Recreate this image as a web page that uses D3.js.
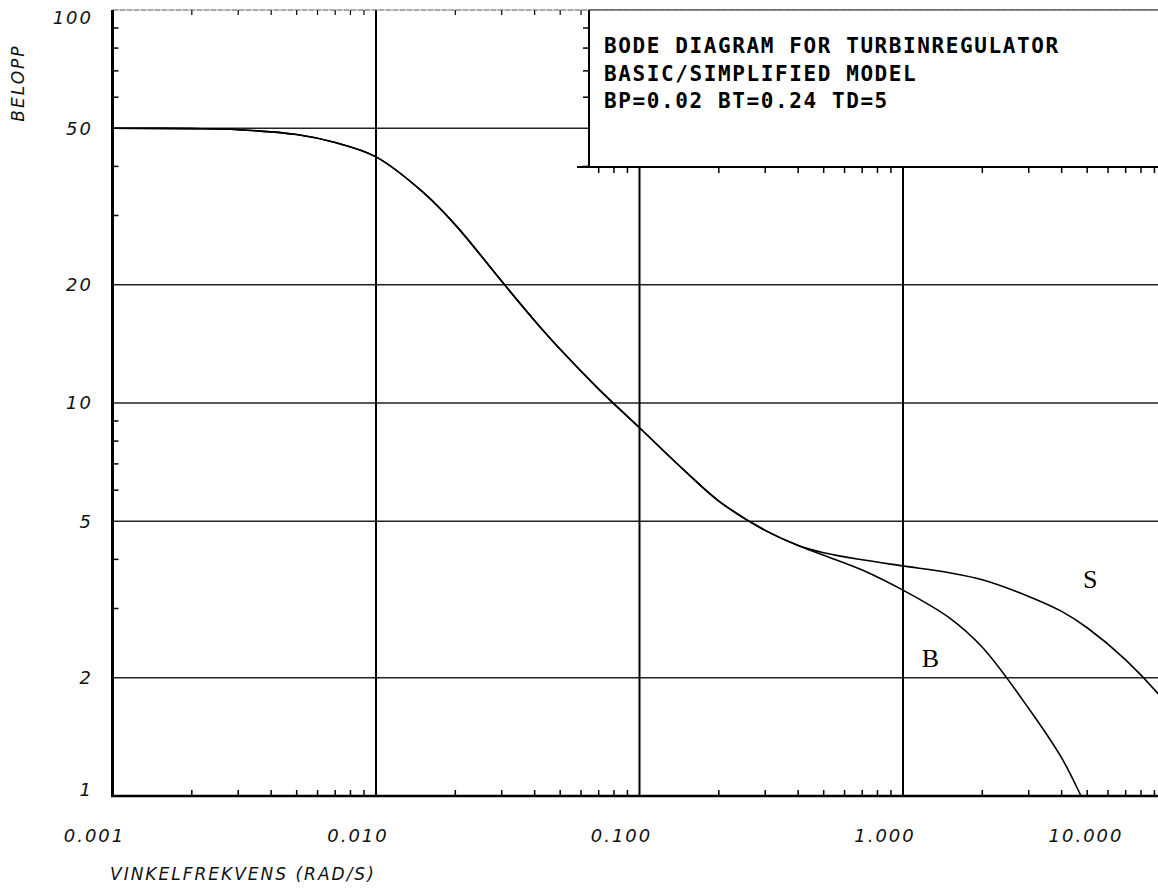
<!DOCTYPE html>
<html>
<head>
<meta charset="utf-8">
<script src="https://cdn.jsdelivr.net/npm/d3@7"></script>
<style>
  html, body { margin: 0; padding: 0; background: #fff; }
  svg { display: block; }
  .tick-label { font-family: "DejaVu Sans", sans-serif; font-style: italic; font-weight: 200; font-size: 18px; letter-spacing: 2px; fill: #111; }
  .axis-title { font-family: "DejaVu Sans", sans-serif; font-style: italic; font-weight: 200; font-size: 17px; letter-spacing: 2px; fill: #111; }
  .box-text { font-family: "DejaVu Sans Mono", monospace; font-weight: bold; font-size: 21px; letter-spacing: 1.6px; fill: #000; }
  .curve-label { font-family: "Liberation Serif", "DejaVu Serif", serif; font-size: 26px; fill: #000; }
</style>
</head>
<body>
<svg id="chart" width="1158" height="894"></svg>
<script>
// ---------- data ----------
const omega = [0.001, 0.002, 0.003, 0.005, 0.007, 0.01, 0.015, 0.02, 0.03, 0.04, 0.05, 0.07,
               0.1, 0.15, 0.2, 0.3, 0.4, 0.5, 0.7, 1, 1.5, 2, 3, 4, 5, 7, 10, 15];
// B = basic model, S = simplified model (magnitude, BELOPP)
const magB = [50, 49.9, 49.6, 48.2, 46.0, 42.3, 34.5, 28.4, 20.4, 16.2, 13.7, 10.85,
              8.65, 6.68, 5.63, 4.74, 4.34, 4.1, 3.76, 3.34, 2.84, 2.39, 1.67, 1.25, 0.93, 0.6, 0.4, 0.25];
const magS = [50, 49.9, 49.6, 48.2, 46.0, 42.3, 34.5, 28.4, 20.4, 16.2, 13.7, 10.85,
              8.65, 6.68, 5.63, 4.74, 4.34, 4.16, 3.99, 3.85, 3.7, 3.55, 3.22, 2.95, 2.68, 2.22, 1.72, 1.2];
const seriesNames = ["B", "S"];
const labelPos = [{w: 1.27, m: 2.13}, {w: 5.13, m: 3.38}];   // label anchor positions in data units

const xTickValues = [0.001, 0.01, 0.1, 1, 10];
const xTickLabels = ["0.001", "0.010", "0.100", "1.000", "10.000"];
const yTickValues = [1, 2, 5, 10, 20, 50, 100];
const yTickLabels = ["1", "2", "5", "10", "20", "50", "100"];
const xTitle = "VINKELFREKVENS (RAD/S)";
const yTitle = "BELOPP";
const boxLines = ["BODE DIAGRAM FOR TURBINREGULATOR", "BASIC/SIMPLIFIED MODEL", "BP=0.02 BT=0.24 TD=5"];

// ---------- layout ----------
const W = 1158, H = 894;
const pLeft = 112.5, pTop = 10, pBottom = 796;
const decade = 263.5;
const x = d3.scaleLog().domain([0.001, 20]).range([pLeft, pLeft + decade * Math.log10(20000)]);
const y = d3.scaleLog().domain([1, 100]).range([pBottom, pTop]);
const boxLeft = 589, boxBottom = 167;

const svg = d3.select("#chart");
svg.append("rect").attr("width", W).attr("height", H).attr("fill", "#fff");

svg.append("defs").append("clipPath").attr("id", "plotclip")
  .append("rect").attr("x", pLeft).attr("y", pTop).attr("width", W - pLeft).attr("height", pBottom - pTop);

const g = svg.append("g");

// minor tick values
const xMinor = [];
[0.001, 0.01, 0.1, 1, 10].forEach(d => { for (let k = 2; k <= 9; k++) xMinor.push(d * k); });
const yMinor = [];
[1, 10].forEach(d => { [3, 4, 6, 7, 8, 9].forEach(k => yMinor.push(d * k)); });

// horizontal grid lines
yTickValues.filter(v => v > 1 && v < 100).forEach(v => {
  const yy = y(v);
  const xEnd = yy < boxBottom ? boxLeft : W;
  g.append("line").attr("x1", pLeft).attr("x2", xEnd).attr("y1", yy).attr("y2", yy)
    .attr("stroke", "#222").attr("stroke-width", 1.5);
});
// vertical grid lines
xTickValues.filter(v => v > 0.001).forEach(v => {
  const xx = x(v);
  if (xx > W) return;
  const yTop = xx > boxLeft ? boxBottom : pTop;
  g.append("line").attr("x1", xx).attr("x2", xx).attr("y1", yTop).attr("y2", pBottom)
    .attr("stroke", "#000").attr("stroke-width", 2);
});

// minor ticks: bottom (up), top (down), box bottom (down)
xMinor.forEach(v => {
  const xx = x(v);
  if (xx > W) return;
  g.append("line").attr("x1", xx).attr("x2", xx).attr("y1", pBottom).attr("y2", pBottom - 6)
    .attr("stroke", "#000").attr("stroke-width", 1.5);
  if (xx < boxLeft) {
    g.append("line").attr("x1", xx).attr("x2", xx).attr("y1", pTop).attr("y2", pTop + 5)
      .attr("stroke", "#000").attr("stroke-width", 1.2);
  } else {
    g.append("line").attr("x1", xx).attr("x2", xx).attr("y1", boxBottom).attr("y2", boxBottom + 6)
      .attr("stroke", "#000").attr("stroke-width", 1.5);
  }
});
// minor ticks: left axis (right), box left (left)
yMinor.forEach(v => {
  const yy = y(v);
  g.append("line").attr("x1", pLeft).attr("x2", pLeft + 6).attr("y1", yy).attr("y2", yy)
    .attr("stroke", "#000").attr("stroke-width", 1.5);
  if (yy < boxBottom) {
    g.append("line").attr("x1", boxLeft).attr("x2", boxLeft - 6).attr("y1", yy).attr("y2", yy)
      .attr("stroke", "#000").attr("stroke-width", 1.5);
  }
});

// frame
g.append("line").attr("x1", pLeft).attr("x2", W).attr("y1", pTop).attr("y2", pTop)
  .attr("stroke", "#555").attr("stroke-width", 1).attr("stroke-dasharray", "6,1");
g.append("line").attr("x1", pLeft).attr("x2", pLeft).attr("y1", pTop).attr("y2", pBottom)
  .attr("stroke", "#000").attr("stroke-width", 3);
g.append("line").attr("x1", pLeft - 1.5).attr("x2", W).attr("y1", pBottom).attr("y2", pBottom)
  .attr("stroke", "#000").attr("stroke-width", 2.5);

// legend / title box
g.append("rect").attr("x", boxLeft).attr("y", pTop).attr("width", W - boxLeft + 10).attr("height", boxBottom - pTop)
  .attr("fill", "#fff").attr("stroke", "none");
g.append("line").attr("x1", boxLeft).attr("x2", boxLeft).attr("y1", pTop).attr("y2", boxBottom)
  .attr("stroke", "#000").attr("stroke-width", 2);
g.append("line").attr("x1", boxLeft - 12).attr("x2", W).attr("y1", boxBottom).attr("y2", boxBottom)
  .attr("stroke", "#000").attr("stroke-width", 2);
g.append("line").attr("x1", boxLeft).attr("x2", W).attr("y1", pTop).attr("y2", pTop)
  .attr("stroke", "#222").attr("stroke-width", 1.2);
boxLines.forEach((t, i) => {
  g.append("text").attr("class", "box-text").attr("x", 604).attr("y", 53 + i * 27.5).text(t);
});

// curves
const line = d3.line().x(d => x(d[0])).y(d => y(d[1])).curve(d3.curveCatmullRom.alpha(0.5));
const curves = g.append("g").attr("clip-path", "url(#plotclip)");
[magB, magS].forEach(vals => {
  curves.append("path").datum(omega.map((w, i) => [w, vals[i]]))
    .attr("d", line).attr("fill", "none").attr("stroke", "#000").attr("stroke-width", 1.6);
});
seriesNames.forEach((n, i) => {
  g.append("text").attr("class", "curve-label").attr("x", x(labelPos[i].w)).attr("y", y(labelPos[i].m))
    .attr("text-anchor", "middle").text(n);
});

// x tick labels
xTickValues.forEach((v, i) => {
  g.append("text").attr("class", "tick-label")
    .attr("x", Math.min(x(v) - 18, 1086)).attr("y", 842)
    .attr("text-anchor", "middle").text(xTickLabels[i]);
});
// y tick labels
yTickValues.forEach((v, i) => {
  const yy = Math.max(18, Math.min(y(v), 790));
  g.append("text").attr("class", "tick-label")
    .attr("x", 93).attr("y", yy).attr("dy", "0.35em")
    .attr("text-anchor", "end").text(yTickLabels[i]);
});

// axis titles
g.append("text").attr("class", "axis-title").attr("x", 110).attr("y", 880).text(xTitle);
g.append("text").attr("class", "axis-title")
  .attr("transform", "translate(24,83) rotate(-90)")
  .attr("text-anchor", "middle").text(yTitle);
</script>
</body>
</html>
